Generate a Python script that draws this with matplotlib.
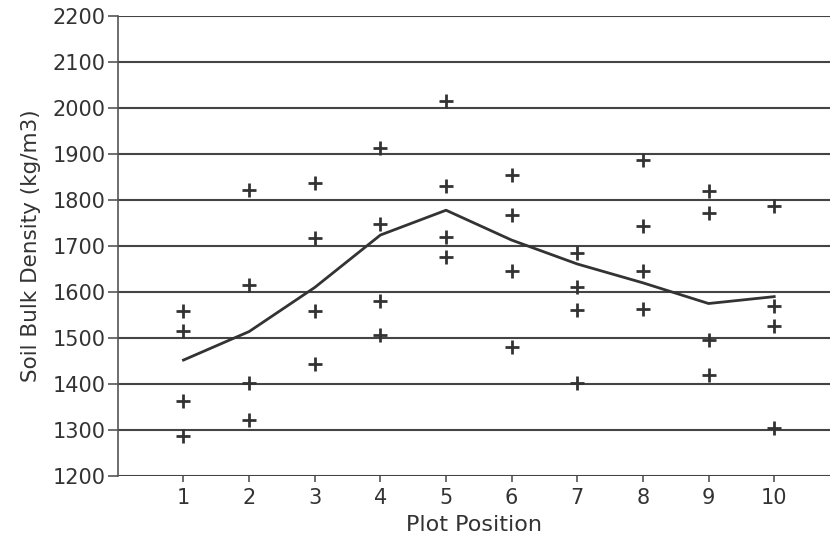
import numpy as np
import matplotlib.pyplot as plt

# measured densities at each plot position (kg/m3)
positions = [1, 2, 3, 4, 5, 6, 7, 8, 9, 10]
samples = [
    [1559, 1516, 1362, 1287],
    [1822, 1615, 1403, 1322],
    [1838, 1717, 1559, 1443],
    [1914, 1748, 1580, 1507],
    [2015, 1831, 1720, 1677],
    [1854, 1767, 1646, 1481],
    [1686, 1612, 1561, 1402],
    [1888, 1743, 1646, 1562],
    [1820, 1771, 1496, 1419],
    [1787, 1570, 1526, 1304],
]
# fitted trend line
trend = [1452, 1514, 1610, 1724, 1778, 1713, 1661, 1620, 1575, 1590]

ink = "#333333"
plt.rcParams["font.family"] = "DejaVu Sans"

fig = plt.figure(figsize=(8.3, 5.42), dpi=100)
ax = fig.add_axes([0.142, 0.122, 0.858, 0.848])

for yv in range(1200, 2201, 100):
    ax.axhline(yv, color="#444444", linewidth=1.5, zorder=1)

for p, vals in zip(positions, samples):
    ax.plot([p] * len(vals), vals, linestyle="none", marker="+",
            markersize=10, markeredgewidth=2, color=ink, zorder=3)

ax.plot(positions, trend, color=ink, linewidth=2, zorder=2)

ax.set_xlim(0, 10.85)
ax.set_ylim(1200, 2200)
ax.set_xticks(positions)
ax.set_yticks(range(1200, 2201, 100))
ax.tick_params(axis="y", length=7, width=1.2, color="#555555", labelsize=15,
               labelcolor=ink, pad=2)
ax.tick_params(axis="x", length=4, width=1.2, color="#555555", labelsize=15,
               labelcolor=ink, pad=5)

for s in ["top", "right", "bottom"]:
    ax.spines[s].set_visible(False)
ax.spines["left"].set_color("#555555")
ax.spines["left"].set_linewidth(1.2)

ax.set_xlabel("Plot Position", fontsize=16, color=ink, labelpad=5)
ax.set_ylabel("Soil Bulk Density (kg/m3)", fontsize=15.5, color=ink, labelpad=8)

fig.savefig("out.png", dpi=100)
